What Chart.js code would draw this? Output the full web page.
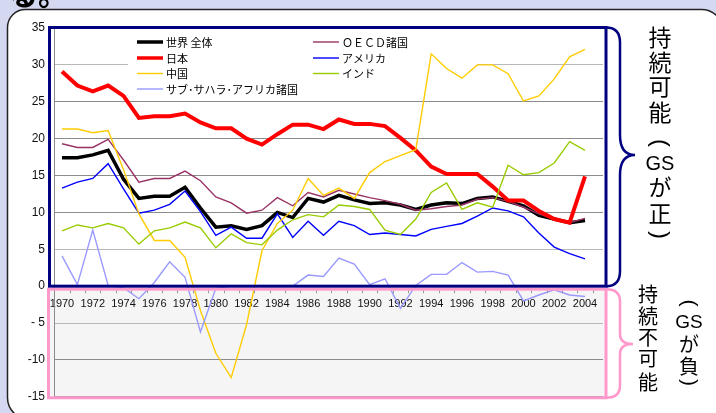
<!DOCTYPE html>
<html><head><meta charset="utf-8">
<script src="https://cdn.jsdelivr.net/npm/chart.js@4"></script>
<style>html,body{margin:0;padding:0;background:#d4d8f0;overflow:hidden}canvas{display:block}</style>
</head><body>
<canvas id="c" width="716" height="413"></canvas>
<script>
// ---- data ----
const years = [1970,1971,1972,1973,1974,1975,1976,1977,1978,1979,1980,1981,1982,1983,1984,1985,1986,1987,1988,1989,1990,1991,1992,1993,1994,1995,1996,1997,1998,1999,2000,2001,2002,2003,2004];
const xTickYears = [1970,1972,1974,1976,1978,1980,1982,1984,1986,1988,1990,1992,1994,1996,1998,2000,2002,2004];
const yTicks = [-15,-10,-5,0,5,10,15,20,25,30,35];
const seriesNames = ['世界 全体','ＯＥＣＤ諸国','日本','アメリカ','中国','インド','サブ･サハラ･アフリカ諸国'];
const world = [17.4,17.4,17.8,18.4,14.5,11.9,12.2,12.2,13.4,10.6, 8.0,8.2,7.7,8.2,10.0,9.3,11.9,11.4,12.3,11.7, 11.2,11.3,11.0,10.4,11.0,11.3,11.2,11.9,12.1,11.5, 10.9,9.6,9.1,8.6,8.9];
const oecd  = [19.3,18.8,18.8,19.9,17.1,14.1,14.6,14.6,15.6,14.3, 12.1,11.3,9.9,10.3,12.0,10.9,12.7,12.1,13.0,12.5, 12.0,11.6,11.1,10.3,10.5,10.8,11.0,11.8,12.0,11.5, 10.7,9.8,9.1,8.6,9.2];
const japan = [29.1,27.2,26.4,27.2,25.8,22.8,23.05,23.05,23.4,22.2, 21.4,21.4,20.0,19.2,20.6,21.9,21.9,21.3,22.6,22.0, 22.0,21.7,20.1,18.4,16.2,15.2,15.2,15.2,13.5,11.6, 11.6,10.2,9.1,8.6,14.9];
const usa   = [13.3,14.1,14.6,16.6,13.2,9.9,10.3,11.1,12.9,10.1, 6.9,8.0,6.5,6.5,9.8,6.6,8.8,6.9,8.8,8.2, 7.0,7.2,7.0,6.8,7.7,8.1,8.5,9.5,10.6,10.2, 9.4,7.2,5.3,4.4,3.7];
const china = [21.3,21.3,20.8,21.1,15.8,9.8,6.2,6.2,3.9,-3.3, -9.1,-12.4,-5.2,4.8,8.5,10.3,14.6,12.3,13.3,11.9, 15.4,16.9,17.7,18.5,31.5,29.5,28.2,30.0,30.0,28.8, 25.1,25.8,28.1,31.1,32.1];
const india = [7.5,8.3,7.9,8.5,7.9,5.7,7.5,7.9,8.7,7.9, 5.2,7.1,5.9,5.6,7.6,9.0,9.7,9.4,11.0,10.8, 10.4,7.6,7.0,9.1,12.7,14.0,10.4,11.3,10.7,16.4, 15.1,15.4,16.7,19.6,18.4];
const ssa   = [4.1,0.2,7.6,0.1,-0.2,-1.7,0.5,3.3,1.2,-6.2, -0.3,0,0,0,0,0,1.5,1.3,3.8,3.0, 0.2,1.0,-3.0,0.1,1.6,1.6,3.2,1.9,2.0,1.5, -2.0,-1.2,-0.5,-1.2,-1.4];

const seriesValues = [world, oecd, japan, usa, china, india, ssa];
const seriesColors = ['#000000','#993366','#ff0000','#0000ff','#ffcc00','#99cc00','#9999ff'];
const seriesWidths = [3.5,1.4,4,1.4,1.4,1.4,1.4];

const LATIN = '"Liberation Sans", Arial, sans-serif';
const CJK = '"Noto Sans CJK JP", "Noto Sans", sans-serif';

const datasets = seriesValues.map((vals, i) => ({
  label: seriesNames[i],
  data: vals.map((v, k) => ({x: years[k], y: v})),
  borderColor: seriesColors[i],
  backgroundColor: seriesColors[i],
  borderWidth: seriesWidths[i],
  pointRadius: 0,
  tension: 0,
  fill: false,
  order: seriesValues.length - i,
  borderJoinStyle: 'miter'
}));

function vChars(ctx, x, items) {
  items.forEach(it => {
    ctx.save();
    ctx.fillStyle = '#000';
    ctx.textAlign = 'center';
    ctx.textBaseline = 'middle';
    ctx.font = it.f;
    ctx.translate(x, it.y);
    if (it.r) ctx.rotate(Math.PI / 2);
    ctx.fillText(it.t, 0, 0);
    ctx.restore();
  });
}

const decor = {
  id: 'decor',
  beforeDraw(chart) {
    const {ctx} = chart;
    const ys = chart.scales.y;
    ctx.save();
    ctx.fillStyle = '#d4d8f0';
    ctx.fillRect(0, 0, 716, 413);
    // fragment of slide text at top
    ctx.fillStyle = '#000';
    ctx.font = 'bold 30px ' + CJK;
    ctx.textBaseline = 'alphabetic';
    ctx.textAlign = 'left';
    ctx.fillText('する。', -22, 5);
    // white panel
    ctx.beginPath();
    ctx.roundRect(7.5, 9.5, 716, 410, [18, 22, 22, 22]);
    ctx.fillStyle = '#ffffff';
    ctx.fill();
    ctx.lineWidth = 1.5;
    ctx.strokeStyle = '#222';
    ctx.stroke();
    // negative region fill
    const y0 = ys.getPixelForValue(0);
    const yb = ys.getPixelForValue(-15);
    ctx.fillStyle = '#f5f5f5';
    ctx.fillRect(48.5, y0 + 3, 606 - 48.5, yb + 1 - (y0 + 3));
    ctx.restore();
  },
  beforeDatasetsDraw(chart) {
    const {ctx} = chart;
    ctx.save();
    // legend box
    ctx.fillStyle = '#ffffff';
    ctx.fillRect(128, 30, 349, 68);
    const cols = [137, 313];
    const rows = [42, 58, 73.5, 89];
    const ds = chart.data.datasets;
    ds.forEach((d, i) => {
      const c = i === 6 ? 0 : i % 2;
      const r = i === 6 ? 3 : Math.floor(i / 2);
      const x = cols[c], y = rows[r];
      ctx.beginPath();
      ctx.moveTo(x, y);
      ctx.lineTo(x + 26, y);
      ctx.strokeStyle = d.borderColor;
      ctx.lineWidth = Math.min(d.borderWidth, 3.5);
      ctx.stroke();
      ctx.fillStyle = '#000';
      ctx.font = '11px ' + CJK;
      ctx.textAlign = 'left';
      ctx.textBaseline = 'middle';
      ctx.fillText(d.label, x + 29, y + 0.5);
    });
    ctx.restore();
  },
  afterDatasetsDraw(chart) {
    const {ctx} = chart;
    const ys = chart.scales.y, xs = chart.scales.x;
    const y0 = ys.getPixelForValue(0);
    const yt = ys.getPixelForValue(35) - 0.5;
    const yb = ys.getPixelForValue(-15) + 1;
    ctx.save();
    // small category ticks below the zero line
    ctx.strokeStyle = '#999';
    ctx.lineWidth = 1;
    years.forEach(yr => {
      const px = Math.round(xs.getPixelForValue(yr + 0.5)) + 0.5;
      ctx.beginPath();
      ctx.moveTo(px, y0 + 4);
      ctx.lineTo(px, y0 + 7);
      ctx.stroke();
    });
    // pink frame (negative)
    ctx.strokeStyle = '#ff99cc';
    ctx.lineWidth = 3;
    ctx.strokeRect(48.5, y0 + 3, 606 - 48.5, yb - (y0 + 3));
    // pink brace
    const pm = (y0 + 3 + yb) / 2 + 0.5;
    ctx.lineWidth = 2.5;
    ctx.beginPath();
    ctx.moveTo(606, y0 + 3);
    ctx.quadraticCurveTo(620, y0 + 3, 620, y0 + 15);
    ctx.lineTo(620, pm - 10);
    ctx.bezierCurveTo(620, pm - 3, 625, pm, 633, pm);
    ctx.bezierCurveTo(625, pm, 620, pm + 3, 620, pm + 10);
    ctx.lineTo(620, yb - 12);
    ctx.quadraticCurveTo(620, yb, 606, yb);
    ctx.stroke();
    // navy frame (positive)
    ctx.strokeStyle = '#000080';
    ctx.lineWidth = 3;
    ctx.strokeRect(49.5, yt, 606 - 49.5, y0 - yt);
    // navy brace
    const nm = 155;
    ctx.lineWidth = 2.5;
    ctx.beginPath();
    ctx.moveTo(606, yt);
    ctx.quadraticCurveTo(620, yt, 620, yt + 15);
    ctx.lineTo(620, nm - 20);
    ctx.bezierCurveTo(620, nm - 6, 626, nm, 635, nm);
    ctx.bezierCurveTo(626, nm, 620, nm + 6, 620, nm + 20);
    ctx.lineTo(620, y0 - 15);
    ctx.quadraticCurveTo(620, y0, 606, y0);
    ctx.stroke();
    ctx.restore();
    // vertical labels
    const b = '23px ' + CJK, m = '20px ' + CJK;
    vChars(ctx, 660, [
      {t:'持', y:37.5, f:b}, {t:'続', y:62.5, f:b}, {t:'可', y:86.5, f:b}, {t:'能', y:112.5, f:b},
      {t:'(', y:143, f:'24px ' + LATIN, r:true}, {t:'GS', y:164.5, f:'20px ' + LATIN},
      {t:'が', y:187.5, f:b}, {t:'正', y:213, f:b}, {t:')', y:235, f:'24px ' + LATIN, r:true}
    ]);
    vChars(ctx, 648, [
      {t:'持', y:294, f:m}, {t:'続', y:316, f:m}, {t:'不', y:337.5, f:m}, {t:'可', y:358.5, f:m}, {t:'能', y:382.5, f:m}
    ]);
    vChars(ctx, 689, [
      {t:'(', y:303, f:'21px ' + LATIN, r:true}, {t:'GS', y:322.5, f:'19px ' + LATIN},
      {t:'が', y:344, f:m}, {t:'負', y:366, f:m}, {t:')', y:382.5, f:'21px ' + LATIN, r:true}
    ]);
  }
};

new Chart(document.getElementById('c'), {
  type: 'line',
  data: { datasets },
  options: {
    responsive: false,
    devicePixelRatio: 1,
    animation: false,
    layout: { padding: { top: 28, right: 113, bottom: 16, left: 0 } },
    plugins: { legend: { display: false }, tooltip: { enabled: false } },
    scales: {
      x: {
        type: 'linear',
        min: 1969.48,
        max: 2005.17,
        position: { y: 0 },
        grid: { display: false, drawTicks: false },
        border: { display: false },
        afterBuildTicks: ax => { ax.ticks = xTickYears.map(v => ({ value: v })); },
        afterFit: ax => { ax.height = 0; },
        ticks: {
          autoSkip: false, maxRotation: 0, minRotation: 0, padding: 11,
          color: '#111', font: { family: LATIN, size: 11 },
          callback: v => String(v)
        }
      },
      y: {
        type: 'linear',
        min: -15,
        max: 35,
        afterBuildTicks: ax => { ax.ticks = yTicks.map(v => ({ value: v })); },
        afterFit: ax => { ax.width = 54; },
        grid: {
          drawTicks: false,
          lineWidth: 1,
          color: c => ([30, 5, -5].includes(c.tick && c.tick.value) ? '#b8b8b8' : '#8c8c8c')
        },
        border: { display: true, color: '#8c8c8c', width: 1 },
        ticks: {
          padding: 9, color: '#111', font: { family: LATIN, size: 12 },
          callback: v => (v < 0 && v > -10 ? '- ' + Math.abs(v) : String(v))
        }
      }
    }
  },
  plugins: [decor]
});
</script>
</body></html>
